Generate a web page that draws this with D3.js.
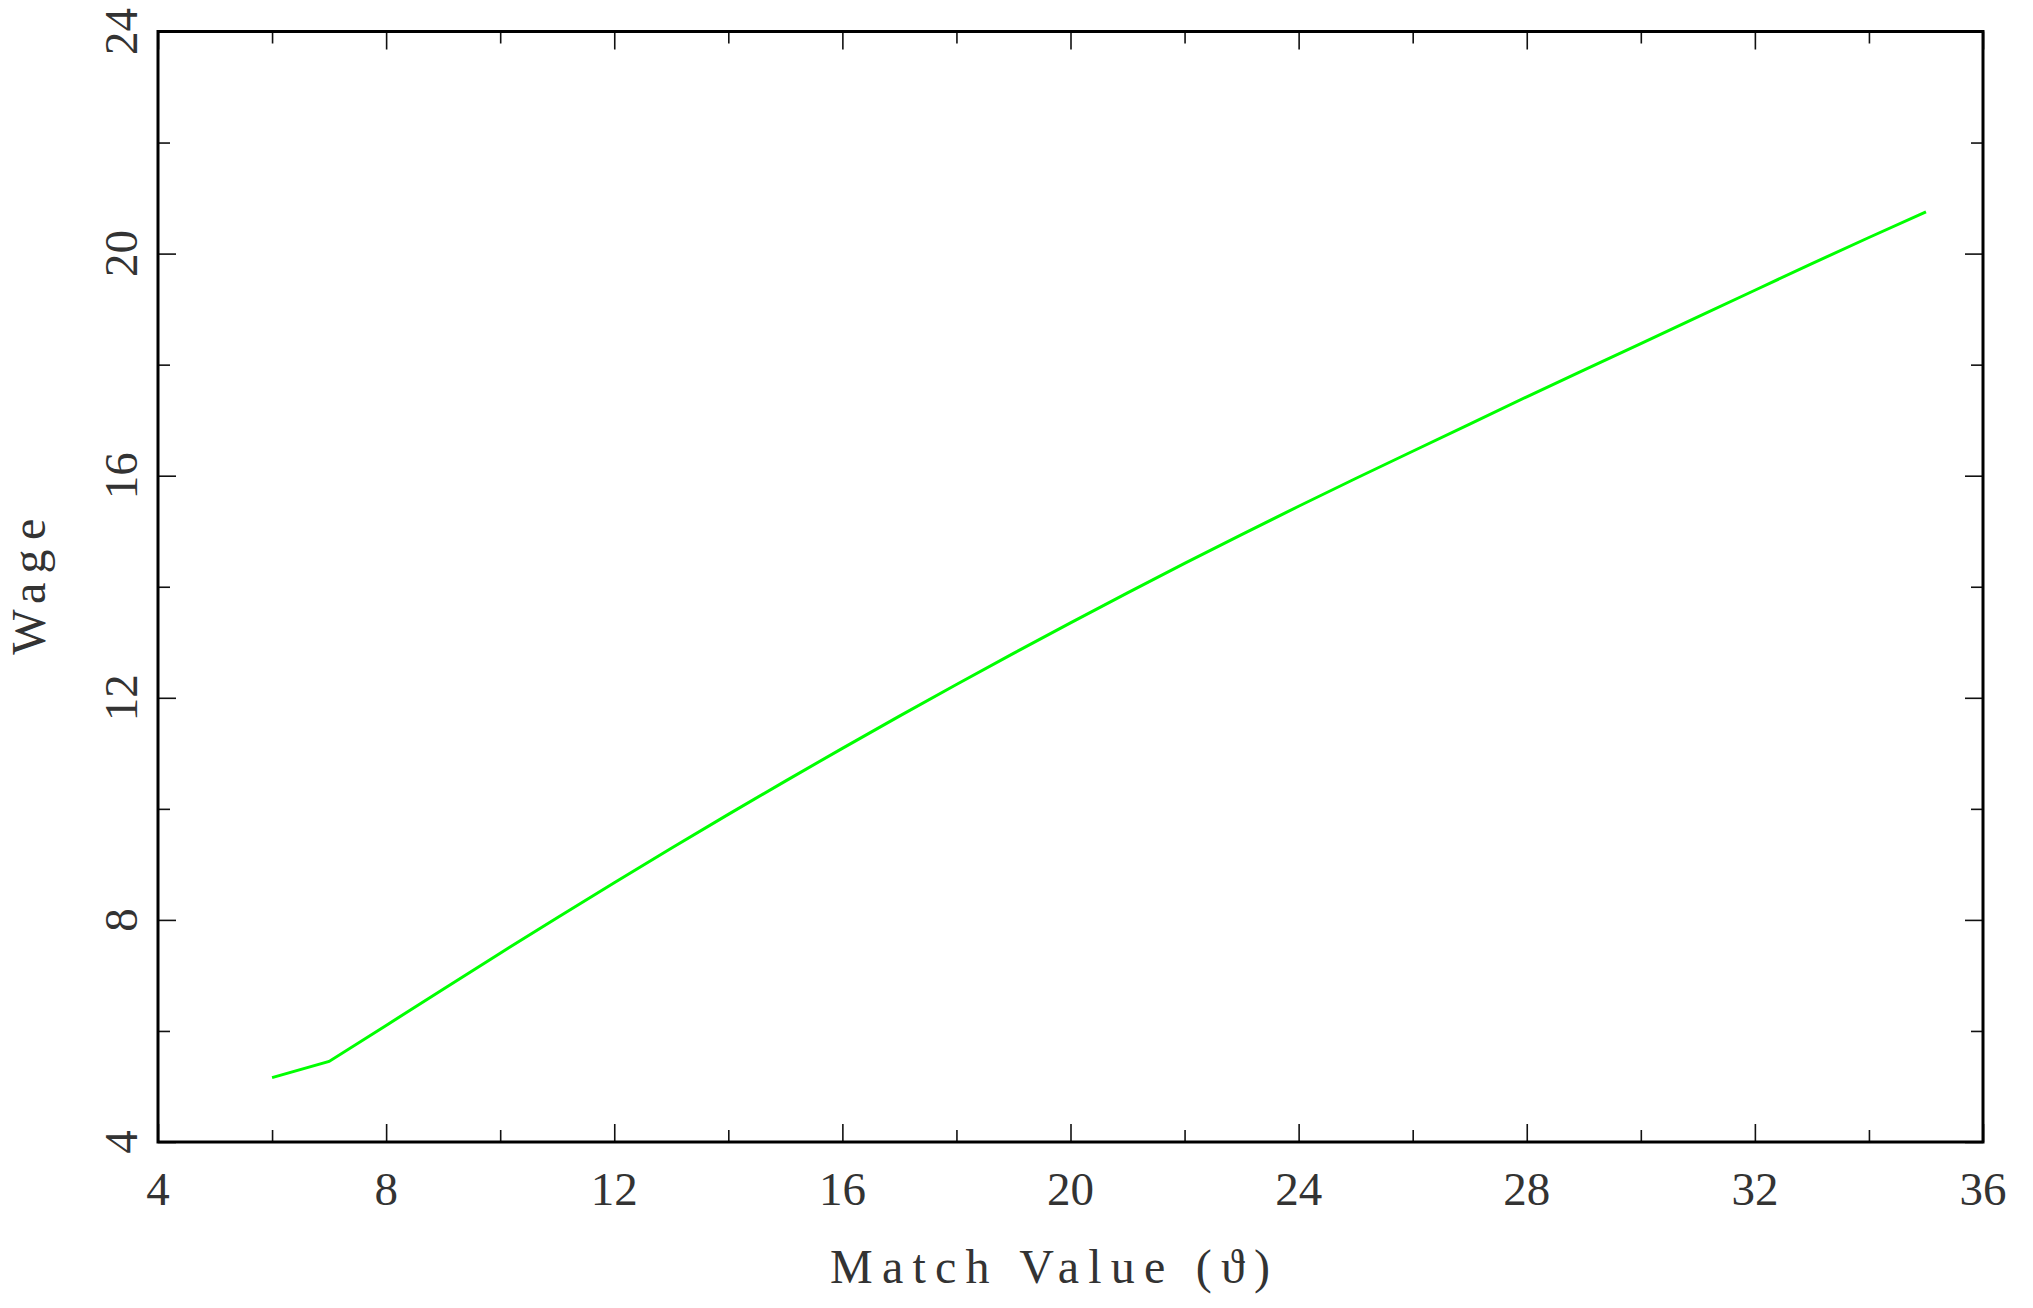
<!DOCTYPE html>
<html>
<head>
<meta charset="utf-8">
<script src="https://cdn.jsdelivr.net/npm/d3@7"></script>
<style>
  body { margin: 0; background: #fff; }
  svg text { font-family: "Liberation Serif", "DejaVu Serif", serif; fill: #333; }
</style>
</head>
<body>
<svg id="chart" width="2033" height="1308"></svg>
<script>
// ---------- data ---------- //
var matchValue = [6, 7, 8, 9, 10, 11, 12, 13, 14, 15, 16, 17, 18, 19, 20,
                  21, 22, 23, 24, 25, 26, 27, 28, 29, 30, 31, 32, 33, 34, 35];
var wage = [5.16, 5.45, 6.10, 6.75, 7.40, 8.04, 8.67, 9.29, 9.90, 10.50,
            11.09, 11.67, 12.24, 12.80, 13.35, 13.89, 14.42, 14.94, 15.45, 15.95,
            16.44, 16.93, 17.42, 17.90, 18.38, 18.86, 19.34, 19.82, 20.29, 20.75];
var xMajor = [4, 8, 12, 16, 20, 24, 28, 32, 36];
var xMinor = [6, 10, 14, 18, 22, 26, 30, 34];
var yMajor = [4, 8, 12, 16, 20, 24];
var yMinor = [6, 10, 14, 18, 22];

// plot box (window.top is read-only, so keep these names distinct)
var plotLeft = 158, plotRight = 1983, plotTop = 31.5, plotBottom = 1142;

svg = d3.select("#chart");

var x = d3.scaleLinear().domain([4, 36]).range([plotLeft, plotRight]);
var y = d3.scaleLinear().domain([4, 24]).range([plotBottom, plotTop]);

// ticks on all four sides, pointing inward
function tickAxis(axisFn, scale, values, size, transform){
    svg.append("g")
        .attr("transform", transform)
        .call(axisFn(scale).tickValues(values).tickSize(size).tickFormat(""))
        .call(function(g){ g.select(".domain").remove(); })
        .selectAll("line")
        .attr("stroke", "#111")
        .attr("stroke-width", 1.6);
}

tickAxis(d3.axisTop, x, xMajor, 18, "translate(0," + plotBottom + ")");
tickAxis(d3.axisTop, x, xMinor, 12, "translate(0," + plotBottom + ")");
tickAxis(d3.axisBottom, x, xMajor, 18, "translate(0," + plotTop + ")");
tickAxis(d3.axisBottom, x, xMinor, 12, "translate(0," + plotTop + ")");
tickAxis(d3.axisRight, y, yMajor, 18, "translate(" + plotLeft + ",0)");
tickAxis(d3.axisRight, y, yMinor, 12, "translate(" + plotLeft + ",0)");
tickAxis(d3.axisLeft, y, yMajor, 18, "translate(" + plotRight + ",0)");
tickAxis(d3.axisLeft, y, yMinor, 12, "translate(" + plotRight + ",0)");

// the line
var line = d3.line()
    .x(function(d, i){ return x(matchValue[i]); })
    .y(function(d){ return y(d); });

svg.append("path")
    .datum(wage)
    .attr("d", line)
    .attr("fill", "none")
    .attr("stroke", "#00ff00")
    .attr("stroke-width", 3);

// frame
svg.append("rect")
    .attr("x", plotLeft)
    .attr("y", plotTop)
    .attr("width", plotRight - plotLeft)
    .attr("height", plotBottom - plotTop)
    .attr("fill", "none")
    .attr("stroke", "#000")
    .attr("stroke-width", 3);

// tick labels
svg.selectAll("text.xlab")
    .data(xMajor)
    .enter().append("text")
    .attr("class", "xlab")
    .attr("x", function(d){ return x(d); })
    .attr("y", 1205)
    .attr("font-size", "47")
    .attr("text-anchor", "middle")
    .text(function(d){ return d; });

svg.selectAll("text.ylab")
    .data(yMajor)
    .enter().append("text")
    .attr("class", "ylab")
    .attr("transform", function(d){ return "translate(137," + y(d) + ") rotate(-90)"; })
    .attr("font-size", "47")
    .attr("text-anchor", "middle")
    .text(function(d){ return d; });

// axis titles
svg.append("text")
    .attr("x", 1050)
    .attr("y", 1283)
    .attr("font-size", "48")
    .attr("text-anchor", "middle")
    .attr("textLength", 440)
    .attr("lengthAdjust", "spacing")
    .text("Match Value (ϑ)");

svg.append("text")
    .attr("transform", "translate(45," + ((plotTop + plotBottom) / 2) + ") rotate(-90)")
    .attr("font-size", "48")
    .attr("text-anchor", "middle")
    .attr("textLength", 136)
    .attr("lengthAdjust", "spacing")
    .text("Wage");
</script>
</body>
</html>
